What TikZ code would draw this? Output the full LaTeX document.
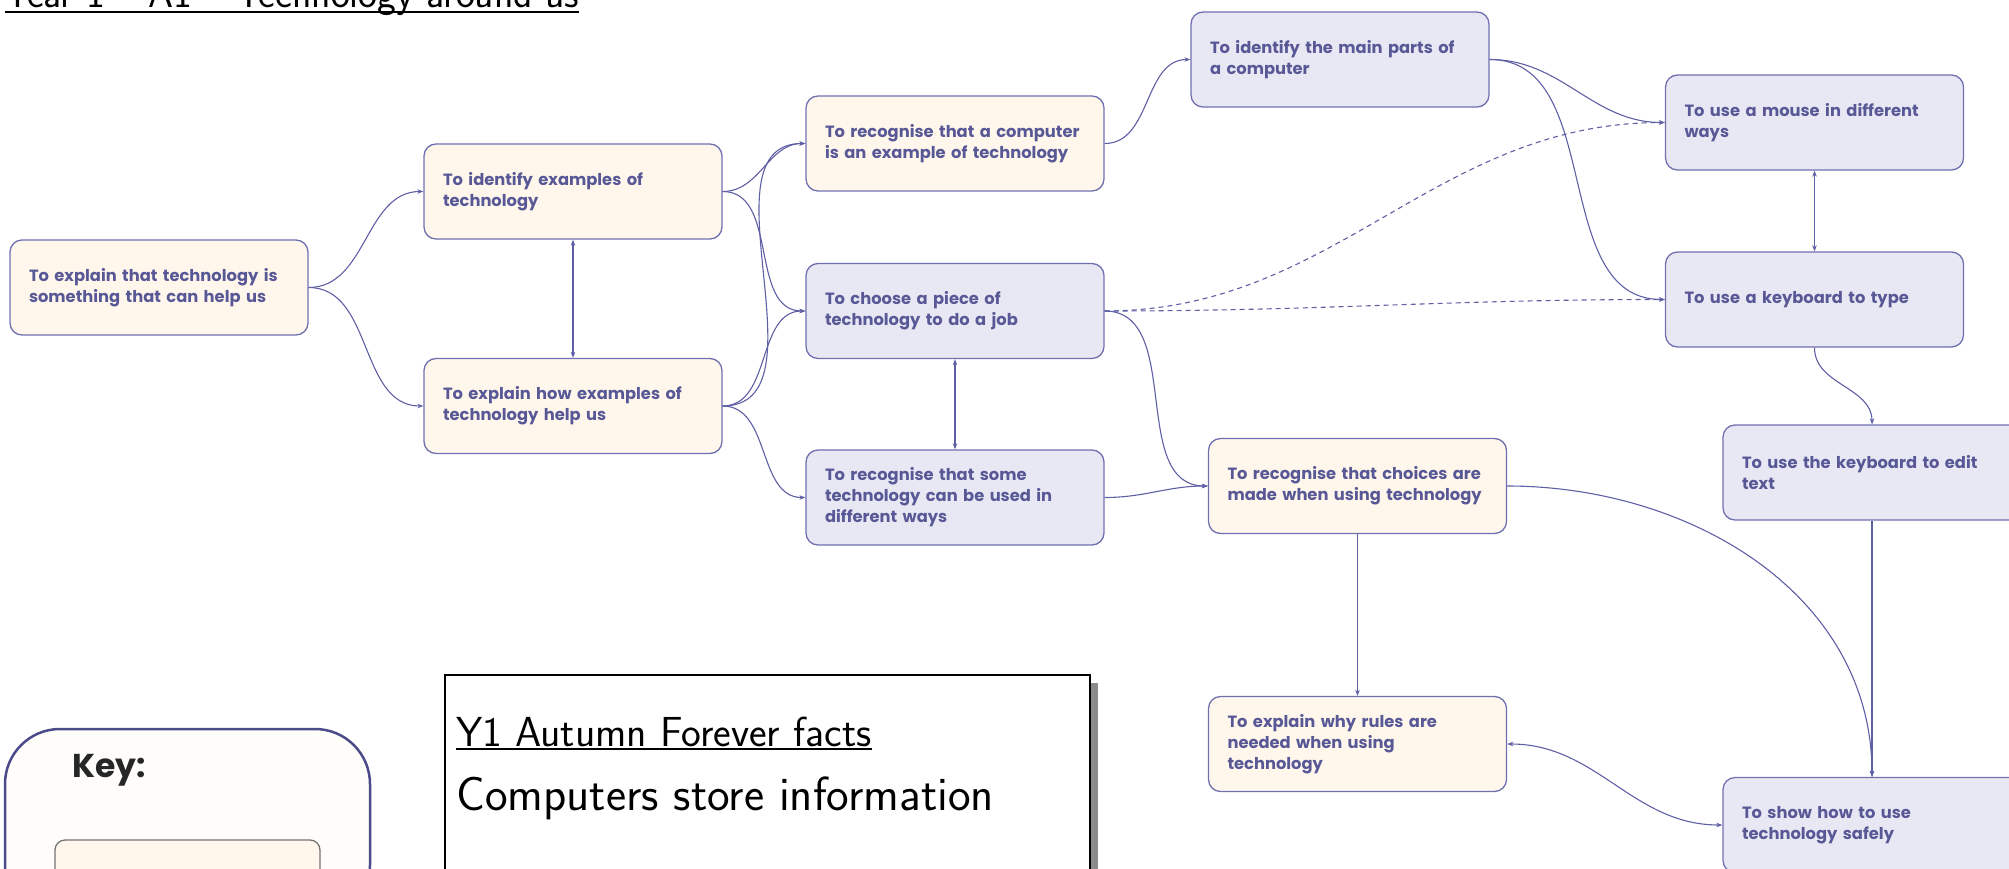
\documentclass[tikz,border=0pt]{standalone}
\usepackage{fontspec}
\setmainfont{Poppins}
\usetikzlibrary{arrows.meta}
\definecolor{objtext}{RGB}{88,88,150}
\definecolor{objline}{RGB}{112,112,176}
\definecolor{creamfill}{RGB}{255,247,236}
\definecolor{lilacfill}{RGB}{232,232,244}
\definecolor{linkcol}{RGB}{95,95,165}
\definecolor{keyline}{RGB}{75,75,140}
\tikzset{>={Stealth[length=6pt,width=4.5pt]}}
\tikzset{
  obj/.style={draw=objline, line width=1.3pt, rounded corners=12pt, text=objtext,
    font=\bfseries\fontsize{16.3}{21}\selectfont, align=left, text width=260pt,
    inner xsep=19pt, minimum height=95pt},
  yellowobj/.style={obj, fill=creamfill},
  blueobj/.style={obj, fill=lilacfill},
  link/.style={draw=linkcol, line width=1.1pt, ->},
  twoway/.style={draw=linkcol, line width=1.1pt, <->},
  maybe/.style={link, dash pattern=on 5pt off 4pt},
  hand/.style={font=\sffamily\fontsize{#1}{#1}\selectfont, inner sep=0pt, anchor=base west},
}

\begin{document}
\begin{tikzpicture}[x=1pt, y=1pt]
    \useasboundingbox (0,0) rectangle (2009,-869);
    % title, cut at the top edge
    \node[hand=40] (title) at (5,-8) {Year 1 -- A1 -- Technology around us};
    \draw[line width=1.6pt] ([yshift=-4pt]title.base west) -- ([yshift=-4pt]title.base east);

    % objectives
    \node[yellowobj] (explain) at (159,-287.5) {To explain that technology is\\something that can help us};
    \node[yellowobj] (identify) at (573,-191.5) {To identify examples of\\technology};
    \node[yellowobj] (helpus) at (573,-406) {To explain how examples of\\technology help us};
    \node[yellowobj] (computer) at (955,-143.5) {To recognise that a computer\\is an example of technology};
    \node[blueobj] (choose) at (955,-311) {To choose a piece of\\technology to do a job};
    \node[blueobj] (ways) at (955,-497.5) {To recognise that some\\technology can be used in\\different ways};
    \node[yellowobj] (choices) at (1357.5,-486) {To recognise that choices are\\made when using technology};
    \node[yellowobj] (rules) at (1357.5,-744) {To explain why rules are\\needed when using\\technology};
    \node[blueobj] (parts) at (1340,-59.5) {To identify the main parts of\\a computer};
    \node[blueobj] (mouse) at (1814.5,-122.5) {To use a mouse in different\\ways};
    \node[blueobj] (keyboard) at (1814.5,-299.5) {To use a keyboard to type};
    \node[blueobj] (edit) at (1872,-472.5) {To use the keyboard to edit\\text};
    \node[blueobj] (safely) at (1872,-825) {To show how to use\\technology safely};

    % links
    \draw[link] (explain.east) to[out=0,in=180] (identify.west);
    \draw[link] (explain.east) to[out=0,in=180] (helpus.west);
    \draw[twoway] (identify.south) -- (helpus.north);
    \draw[link] (identify.east) to[out=0,in=180] (computer.west);
    \draw[link] (identify.east) to[out=0,in=180] (choose.west);
    \draw[link] (helpus.east) to[out=0,in=180] (computer.west);
    \draw[link] (helpus.east) to[out=0,in=180] (choose.west);
    \draw[link] (helpus.east) to[out=0,in=180] (ways.west);
    \draw[twoway] (choose.south) -- (ways.north);
    \draw[link] (ways.east) to[out=0,in=180] (choices.west);
    \draw[link] (choose.east) to[out=0,in=180] (choices.west);
    \draw[link] (computer.east) to[out=0,in=180] (parts.west);
    \draw[link] (parts.east) to[out=0,in=180] (mouse.west);
    \draw[link] (parts.east) to[out=0,in=180] (keyboard.west);
    \draw[maybe] (choose.east) to[out=0,in=180] (mouse.west);
    \draw[maybe] (choose.east) to[out=0,in=180] (keyboard.west);
    \draw[twoway] (mouse.south) -- (keyboard.north);
    \draw[link] (keyboard.south) to[out=-90,in=90] (edit.north);
    \draw[link] (edit.south) -- (safely.north);
    \draw[link] (choices.east) to[out=0,in=90] (safely.north);
    \draw[link] (choices.south) -- (rules.north);
    \draw[twoway] (rules.east) to[out=0,in=180] (safely.west);

    % key
    \draw[keyline, line width=2.5pt, fill=creamfill!30, rounded corners=55pt] (5,-920) rectangle (370,-729);
    \node[font=\bfseries\fontsize{33}{33}\selectfont, text=black!85, anchor=west, inner sep=0pt] (key) at (72,-770) {Key:};
    \draw[draw=black!55, fill=creamfill, line width=1.3pt, rounded corners=10pt] (55,-900) rectangle (320,-840);

    % forever facts
    \fill[black!45] (1090,-683) rectangle (1098,-900);
    \draw[line width=1.2pt, fill=white] (445,-675) rectangle (1090,-900);
    \node[hand=42] (facts) at (456,-746) {Y1 Autumn Forever facts};
    \draw[line width=1.2pt] ([yshift=-3pt]facts.base west) -- ([yshift=-3pt]facts.base east);
    \node[hand=48] (store) at (456,-810) {Computers store information};
\end{tikzpicture}
\end{document}
